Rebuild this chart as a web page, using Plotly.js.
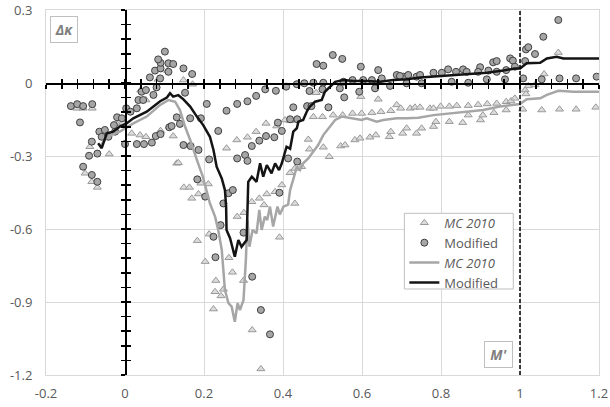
<!DOCTYPE html>
<html><head><meta charset="utf-8">
<script src="https://cdn.plot.ly/plotly-3.0.1.min.js"></script>
<style>html,body{margin:0;padding:0;background:#fff}#chart{width:610px;height:407px}</style>
</head><body><div id="chart"></div>
<script>
// MC 2010 (triangles)
const mcPtsX = [-0.122,-0.106,-0.083,-0.089,-0.101,-0.084,-0.07,-0.04,-0.02,-0.006,0.017,0.038,0.053,0.09,0.112,0.122,0.131,0.04,0.053,0.084,0.108,0.148,0.171,
  0.135,0.149,0.163,0.169,0.186,0.192,0.211,0.183,0.213,0.203,0.23,0.228,0.249,0.243,0.224,0.263,0.272,0.3,0.322,0.344,0.284,0.301,0.321,0.34,0.352,0.359,0.38,0.397,0.418,0.43,0.43,0.391,0.257,0.283,0.31,0.332,0.357,0.384,0.418,0.405,0.447,
  0.464,0.467,0.502,0.517,0.546,0.557,0.582,0.595,0.62,0.635,0.669,0.673,0.703,0.713,0.738,0.751,0.781,0.787,0.821,0.855,0.869,0.9,0.906,0.934,0.965,
  0.484,0.597,0.641,0.477,0.5,0.527,0.551,0.576,0.599,0.625,0.648,0.673,0.688,0.698,0.722,0.734,0.747,0.772,0.781,0.799,0.821,0.84,0.869,0.894,0.917,0.941,0.965,0.977,
  0.987,1.013,1.015,1.021,1.038,1.061,1.097,1.007,1.055,1.1,1.142,1.192];
const mcPtsY = [-0.104,-0.104,-0.104,-0.262,-0.371,-0.406,-0.429,-0.292,-0.168,-0.163,-0.207,-0.214,-0.221,-0.196,-0.179,-0.218,-0.33,-0.029,-0.07,0.015,0.051,0.012,-0.005,
  -0.328,-0.429,-0.429,-0.474,-0.456,-0.412,-0.415,-0.648,-0.621,-0.734,-0.812,-0.858,-0.848,-0.875,-0.929,-0.718,-0.778,-0.812,-1.015,-1.175,-0.549,-0.533,-0.488,-0.474,-0.501,-0.456,-0.447,-0.419,-0.369,-0.351,-0.495,-0.634,-0.268,-0.234,-0.223,-0.2,-0.166,-0.177,-0.155,-0.152,-0.344,
  -0.232,-0.272,-0.264,-0.303,-0.259,-0.255,-0.234,-0.227,-0.223,-0.214,-0.221,-0.2,-0.207,-0.186,-0.207,-0.186,-0.179,-0.159,-0.159,-0.163,-0.132,-0.152,-0.132,-0.122,-0.111,
  -0.04,-0.056,-0.067,-0.139,-0.139,-0.132,-0.132,-0.125,-0.125,-0.122,-0.118,-0.114,-0.09,-0.104,-0.104,-0.1,-0.1,-0.104,-0.104,-0.096,-0.096,-0.093,-0.093,-0.089,-0.086,-0.084,-0.077,-0.074,
  -0.063,-0.029,-0.045,-0.012,-0.008,0.037,0.125,-0.108,-0.111,-0.108,-0.108,-0.1];

// Modified (circles)
const modPtsX = [-0.137,-0.121,-0.106,-0.083,-0.114,-0.084,-0.091,-0.07,-0.106,-0.084,-0.07,
  -0.065,-0.051,-0.042,-0.059,-0.025,-0.028,-0.02,-0.008,0.003,0.014,0.03,0.034,0.046,0.042,0.053,0.063,0.072,0.08,0.076,0.09,0.09,0.11,0.101,0.122,0.084,
  0,0.03,0.048,0.068,0.078,0.09,0.112,0.131,
  0.11,0.148,0.17,0.152,0.089,0.207,0.257,0.284,0.31,0.332,0.355,0.382,0.408,0.435,
  0.118,0.139,0.165,0.192,0.148,0.166,0.186,0.213,0.236,0.426,0.387,0.397,0.357,0.378,0.34,0.321,0.284,0.304,0.31,0.436,0.418,0.413,0.436,0.183,0.203,0.262,0.273,0.249,0.391,0.242,0.224,0.3,0.229,0.322,0.344,0.367,
  0.526,0.485,0.502,0.55,0.597,0.641,0.454,0.477,0.502,0.467,0.5,0.544,0.555,0.593,0.633,0.671,0.461,0.472,0.515,
  0.576,0.603,0.625,0.65,0.688,0.705,0.717,0.738,0.553,
  1.097,1.059,1.015,1.021,1.038,1.013,0.975,0.982,0.932,0.941,0.987,0.899,0.856,0.818,0.781,0.696,0.747,0.802,0.838,0.865,0.894,0.92,0.941,0.965,0.713,0.751,0.827,0.869,0.916,0.962,1.008,1.055,1.1,1.142,1.194];
const modPtsY = [-0.095,-0.087,-0.095,-0.087,-0.162,-0.241,-0.299,-0.29,-0.344,-0.378,-0.406,
  -0.2,-0.193,-0.221,-0.221,-0.2,-0.173,-0.141,-0.145,-0.104,-0.118,-0.104,-0.07,-0.07,-0.036,-0.029,0.023,-0.049,-0.018,0.051,0.06,0.083,0.081,0.129,0.078,0.097,
  -0.251,-0.251,-0.251,-0.245,-0.218,-0.21,-0.182,-0.141,
  0.046,0.06,0.037,-0.04,0.019,-0.086,-0.114,-0.086,-0.075,-0.053,-0.026,-0.032,-0.015,-0.005,
  -0.177,-0.168,-0.145,-0.145,-0.255,-0.259,-0.275,-0.314,-0.197,-0.1,-0.163,-0.197,-0.218,-0.223,-0.237,-0.259,-0.31,-0.296,-0.32,-0.149,-0.149,-0.31,-0.323,-0.396,-0.467,-0.453,-0.44,-0.495,-0.451,-0.584,-0.632,-0.615,-0.716,-0.796,-0.933,-1.033,
  0.115,0.078,0.071,0.099,0.067,0.053,-0.001,0.001,0.001,-0.033,-0.026,-0.022,-0.059,-0.036,-0.022,-0.012,-0.095,-0.095,-0.1,
  0.012,0.012,0.012,0.019,0.033,0.026,0.033,0.026,0.005,
  0.259,0.19,0.138,0.147,0.119,0.09,0.101,0.092,0.085,0.09,0.067,0.065,0.056,0.056,0.042,0.029,0.033,0.042,0.046,0.046,0.046,0.051,0.046,0.053,-0.001,-0.001,0.005,0.001,0.015,0.015,0.019,0.015,0.019,0.019,0.026];

// MC 2010 (line)
const mcLineX = [-0.063,-0.046,-0.013,0.021,0.055,0.089,0.11,0.127,0.139,0.152,0.165,0.173,0.182,0.197,0.207,0.215,0.228,0.236,0.245,0.249,0.253,0.262,0.27,0.278,0.285,0.291,0.3,0.306,0.31,0.315,0.323,0.333,0.34,0.346,0.354,0.36,0.367,0.375,0.386,0.392,0.401,0.413,0.418,0.428,0.435,0.443,0.451,0.464,0.477,0.489,0.502,0.519,0.532,0.549,0.574,0.599,0.612,0.637,0.654,0.688,0.713,0.743,0.781,0.823,0.865,0.907,0.949,0.983,1.0,1.017,1.051,1.068,1.097,1.135,1.2];
const mcLineY = [-0.262,-0.221,-0.2,-0.166,-0.138,-0.09,-0.07,-0.077,-0.111,-0.179,-0.234,-0.275,-0.316,-0.385,-0.44,-0.495,-0.549,-0.604,-0.686,-0.755,-0.851,-0.905,-0.919,-0.981,-0.905,-0.933,-0.892,-0.727,-0.563,-0.673,-0.604,-0.618,-0.522,-0.604,-0.549,-0.563,-0.508,-0.59,-0.508,-0.54,-0.508,-0.5,-0.44,-0.385,-0.344,-0.358,-0.33,-0.31,-0.282,-0.255,-0.214,-0.179,-0.152,-0.138,-0.145,-0.152,-0.145,-0.159,-0.152,-0.145,-0.145,-0.143,-0.132,-0.125,-0.118,-0.111,-0.097,-0.09,-0.086,-0.067,-0.063,-0.049,-0.032,-0.036,-0.036];

// Modified (line)
const modLineX = [-0.068,-0.059,-0.046,-0.03,-0.013,0.004,0.021,0.038,0.055,0.072,0.089,0.106,0.114,0.122,0.135,0.148,0.165,0.182,0.198,0.215,0.224,0.232,0.245,0.253,0.256,0.257,0.266,0.278,0.287,0.295,0.308,0.312,0.321,0.333,0.342,0.35,0.359,0.371,0.38,0.39,0.397,0.409,0.418,0.426,0.435,0.439,0.451,0.46,0.468,0.481,0.498,0.506,0.519,0.532,0.553,0.578,0.612,0.646,0.679,0.713,0.747,0.797,0.865,0.916,0.958,0.987,1.0,1.017,1.051,1.068,1.093,1.11,1.144,1.2];
const modLineY = [-0.248,-0.268,-0.207,-0.2,-0.179,-0.166,-0.145,-0.132,-0.118,-0.097,-0.075,-0.06,-0.042,-0.056,-0.05,-0.067,-0.097,-0.138,-0.173,-0.221,-0.275,-0.344,-0.392,-0.44,-0.508,-0.604,-0.638,-0.714,-0.645,-0.673,-0.645,-0.406,-0.385,-0.406,-0.33,-0.385,-0.337,-0.371,-0.33,-0.358,-0.33,-0.262,-0.27,-0.2,-0.186,-0.159,-0.152,-0.118,-0.097,-0.077,-0.07,-0.036,-0.015,0.005,0.012,0.008,0.008,0.005,0.012,0.015,0.023,0.029,0.037,0.042,0.051,0.06,0.06,0.081,0.083,0.101,0.108,0.101,0.101,0.101];

const xTickVals = [-0.2,0,0.2,0.4,0.6,0.8,1,1.2];
const xTickText = ["-0.2","0","0.2","0.4","0.6","0.8","1","1.2"];
const yTickVals = [0.3,0,-0.3,-0.6,-0.9,-1.2];
const yTickText = ["0.3","0","-0.3","-0.6","-0.9","-1.2"];
const seriesNames = ["<i>MC 2010</i>","Modified","<i>MC 2010</i>","Modified"];
const refLineX = 1;

const xRange = [-0.2,1.2], yRange = [-1.2,0.3];
const tickFont = {family:"Open Sans, sans-serif", size:13, color:"#595959"};

const traces = [
  {x:mcPtsX, y:mcPtsY, type:"scatter", mode:"markers", name:seriesNames[0],
   marker:{symbol:"triangle-up", size:7, color:"#dcdcdc", line:{color:"#999999", width:1}}},
  {x:modPtsX, y:modPtsY, type:"scatter", mode:"markers", name:seriesNames[1],
   marker:{symbol:"circle", size:7, color:"#a6a6a6", line:{color:"#404040", width:1}}},
  {x:mcLineX, y:mcLineY, type:"scatter", mode:"lines", name:seriesNames[2],
   line:{color:"#a6a6a6", width:2.5}},
  {x:modLineX, y:modLineY, type:"scatter", mode:"lines", name:seriesNames[3],
   line:{color:"#141414", width:2.5}},
  // empty traces that only register the crossing axis overlays
  {x:[], y:[], xaxis:"x2", yaxis:"y2", type:"scatter", mode:"markers", showlegend:false, hoverinfo:"skip"},
  {x:[], y:[], xaxis:"x3", yaxis:"y3", type:"scatter", mode:"markers", showlegend:false, hoverinfo:"skip"}
];

const crossX = (ticks)=>({overlaying:"x", anchor:"free", position:0.8, range:xRange, autorange:false, showgrid:false, zeroline:false,
  showticklabels:false, showline:true, linecolor:"#000", linewidth:1.5, ticks:ticks, tickmode:"linear",
  tick0:-0.2, dtick:0.04, ticklen:4, tickwidth:1.5, tickcolor:"#000", fixedrange:true});
const crossY = (ticks)=>({overlaying:"y", anchor:"free", position:0.2/1.4, side:"left", range:yRange, autorange:false, showgrid:false, zeroline:false,
  showticklabels:false, showline:true, linecolor:"#000", linewidth:1.5, ticks:ticks, tickmode:"linear",
  tick0:0, dtick:0.06, ticklen:4, tickwidth:1.5, tickcolor:"#000", fixedrange:true});

const boxFont = {family:"Open Sans, sans-serif", size:14, color:"#7f7f7f"};

const layout = {
  width:610, height:407,
  margin:{l:46, r:11, t:10, b:32},
  paper_bgcolor:"#fff", plot_bgcolor:"#fff",
  showlegend:true,
  legend:{x:0.648, y:0.458, xanchor:"left", yanchor:"top", bgcolor:"rgba(0,0,0,0)", borderwidth:0,
    font:{family:"Open Sans, sans-serif", size:13, color:"#595959"}, tracegroupgap:0},
  xaxis:{range:xRange, tickmode:"array", tickvals:xTickVals, ticktext:xTickText, showgrid:true, gridcolor:"#d9d9d9",
    showline:true, mirror:true, linecolor:"#d9d9d9", zeroline:false, ticks:"", tickfont:tickFont, ticklabelstandoff:6, fixedrange:true},
  yaxis:{range:yRange, tickmode:"array", tickvals:yTickVals, ticktext:yTickText, showgrid:true, gridcolor:"#d9d9d9",
    showline:true, mirror:true, linecolor:"#d9d9d9", zeroline:false, ticks:"", tickfont:tickFont, ticklabelstandoff:10, fixedrange:true},
  xaxis2:crossX("outside"), xaxis3:crossX("inside"),
  yaxis2:crossY("outside"), yaxis3:crossY("inside"),
  shapes:[
    {type:"line", xref:"x", yref:"paper", x0:refLineX, x1:refLineX, y0:0, y1:1,
     line:{color:"#000", width:1.5, dash:"4px,2px"}},
    // legend frame
    {type:"rect", xref:"paper", yref:"paper", x0:0.648, x1:0.845, y0:0.2356, y1:0.443,
     line:{color:"#bfbfbf", width:1}, fillcolor:"#fff", layer:"above"}
  ],
  annotations:[
    {xref:"paper", yref:"paper", x:0.032, y:0.9465, xanchor:"center", yanchor:"middle", text:"<b><i>Δκ</i></b>", showarrow:false,
     font:boxFont, width:24, height:23, borderpad:1, bordercolor:"#bfbfbf", borderwidth:1, bgcolor:"#fff"},
    {xref:"paper", yref:"paper", x:0.819, y:0.056, xanchor:"center", yanchor:"middle", text:"<b><i>M'</i></b>", showarrow:false,
     font:boxFont, width:25, height:23, borderpad:1, bordercolor:"#bfbfbf", borderwidth:1, bgcolor:"#fff"}
  ]
};

Plotly.newPlot("chart", traces, layout, {displayModeBar:false, staticPlot:true});
</script></body></html>
